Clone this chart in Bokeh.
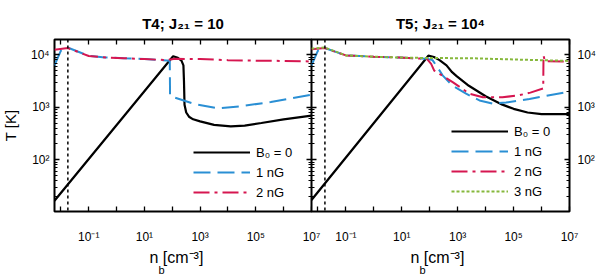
import numpy as np
from bokeh.plotting import figure
from bokeh.layouts import row
from bokeh.models import LogAxis, FixedTicker, Range1d, Span, Legend, LegendItem, Title
from bokeh.embed import file_html
from bokeh.resources import INLINE

FONT = "Liberation Sans"

# ---------------- data (log10 n_b [cm^-3], log10 T [K]) ----------------
# Panel T4; J21 = 10
t4_b0_logn = [-2.23, 2.03, 2.20, 2.33, 2.40, 2.42, 2.44, 2.50, 2.60, 2.75, 3.0, 3.5, 4.1, 4.6, 5.2, 6.0, 7.0]
t4_b0_logT = [1.216, 3.975, 3.945, 3.89, 3.80, 3.50, 3.05, 2.90, 2.82, 2.77, 2.73, 2.665, 2.637, 2.65, 2.70, 2.77, 2.84]

t4_b1_logn = [-2.23, -2.0, -1.75, -1.0, -0.5, 0.25, 1.0, 1.8, 1.91, 1.92, 2.05, 2.78, 3.62, 4.46, 5.54, 7.0]
t4_b1_logT = [3.80, 4.08, 4.14, 3.98, 3.955, 3.937, 3.92, 3.895, 3.89, 3.22, 3.19, 3.065, 2.98, 3.02, 3.10, 3.24]

t4_b2_logn = [-2.23, -1.75, -1.0, -0.5, 0.25, 1.0, 1.8, 2.1, 3.0, 4.0, 5.0, 6.0, 7.0]
t4_b2_logT = [4.10, 4.13, 3.98, 3.955, 3.937, 3.92, 3.90, 3.925, 3.92, 3.90, 3.89, 3.885, 3.875]

# Panel T5; J21 = 10^4
t5_b0_logn = [-2.23, 1.95, 2.15, 2.35, 2.6, 2.8, 2.95, 3.4, 4.0, 4.6, 5.0, 5.5, 6.0, 7.0]
t5_b0_logT = [1.23, 3.985, 3.96, 3.90, 3.80, 3.67, 3.60, 3.41, 3.21, 3.05, 2.97, 2.90, 2.87, 2.87]

t5_b1_logn = [-2.23, -2.0, -1.75, -1.0, 0.0, 0.9, 1.9, 2.1, 2.28, 2.46, 2.82, 3.3, 3.78, 4.25, 4.73, 5.57, 7.0]
t5_b1_logT = [3.80, 4.08, 4.13, 3.99, 3.965, 3.95, 3.925, 3.90, 3.76, 3.61, 3.41, 3.26, 3.13, 3.07, 3.09, 3.16, 3.30]

t5_b2_logn = [-2.23, -1.75, -1.0, 0.0, 0.9, 1.9, 2.05, 2.16, 2.34, 2.82, 3.42, 3.9, 4.6, 5.2, 5.6, 6.06, 6.07, 6.12, 7.0]
t5_b2_logT = [4.11, 4.13, 3.99, 3.965, 3.95, 3.925, 3.83, 3.70, 3.64, 3.48, 3.26, 3.19, 3.19, 3.23, 3.28, 3.36, 3.99, 3.88, 3.87]

t5_b3_logn = [-2.23, -1.75, -1.0, 0.0, 0.9, 1.9, 3.4, 5.2, 7.0]
t5_b3_logT = [4.12, 4.14, 3.99, 3.965, 3.95, 3.94, 3.937, 3.91, 3.885]

n_crit_log = -1.75          # dotted vertical line
x_lim_log = (-2.23, 7.0)
y_lim_log = (1.01, 4.294)

x_tick_exp = [-2, -1, 0, 1, 2, 3, 4, 5, 6, 7]
x_tick_text = {-1: "10⁻¹", 1: "10¹", 3: "10³", 5: "10⁵", 7: "10⁷"}
y_tick_exp = [2, 3, 4]
y_tick_text = {2: "10²", 3: "10³", 4: "10⁴"}

titles = ["T4; J₂₁ = 10", "T5; J₂₁ = 10⁴"]
legend_labels = ["B₀ = 0", "1 nG", "2 nG", "3 nG"]
x_label_main = "n   [cm⁻³]"
x_label_sub = "b"
y_label = "T [K]"

COL = {"b0": "black", "b1": "#2a8fd4", "b2": "#d61650", "b3": "#86b83c"}
DASH = {"b0": "solid", "b1": "17 7", "b2": "16 5 3 5", "b3": "3 2"}
WID = {"b0": 2.2, "b1": 2.0, "b2": 2.0, "b3": 2.0}

x_ticks = [10.0 ** k for k in x_tick_exp]
x_over = {t: x_tick_text.get(k, "") for k, t in zip(x_tick_exp, x_ticks)}
y_ticks = [10.0 ** k for k in y_tick_exp]
y_over = {t: y_tick_text[k] for k, t in zip(y_tick_exp, y_ticks)}
y_minor = [m * 10.0 ** k for k in (1, 2, 3, 4) for m in range(2, 10)]

FH = 172


def style_axis(ax, ticks, minor, overrides, show, standoff):
    ax.ticker = FixedTicker(ticks=ticks, minor_ticks=minor)
    ax.major_label_overrides = overrides if show else {t: "" for t in ticks}
    ax.axis_line_color = None
    ax.major_tick_in = 5
    ax.major_tick_out = 0
    ax.minor_tick_in = 3
    ax.minor_tick_out = 0
    ax.major_tick_line_color = "black"
    ax.minor_tick_line_color = "black"
    ax.major_tick_line_width = 1.3
    ax.minor_tick_line_width = 1
    ax.major_label_text_font = FONT
    ax.major_label_text_color = "black"
    ax.major_label_text_font_size = "12px" if show else "0px"
    ax.major_label_standoff = standoff if show else 0
    ax.axis_label = None


def make_panel(side, fw, series, title, labels, xlab_offset):
    left = side == "left"
    p = figure(x_axis_type="log", y_axis_type="log",
               x_range=Range1d(10 ** x_lim_log[0], 10 ** x_lim_log[1]),
               y_range=Range1d(10 ** y_lim_log[0], 10 ** y_lim_log[1]),
               frame_width=fw, frame_height=FH,
               y_axis_location="left" if left else "right",
               output_backend="svg", toolbar_location=None,
               min_border_left=62 if left else 0,
               min_border_right=16 if left else 31,
               min_border_top=39, min_border_bottom=63,
               margin=(0, 0, 0, -8) if left else (0, 0, 0, -16))
    p.grid.visible = False
    p.outline_line_color = "black"
    p.outline_line_width = 2
    p.background_fill_color = "white"
    p.border_fill_alpha = 0

    p.title = Title(text=title, align="center", text_font=FONT, text_font_size="15px",
                    text_font_style="bold", text_color="black", standoff=15)

    style_axis(p.xaxis[0], x_ticks, [], x_over, True, 18)
    style_axis(p.yaxis[0], y_ticks, y_minor, y_over, True, 5 if left else 8)
    if left:
        ya = p.yaxis[0]
        ya.axis_label = y_label
        ya.axis_label_text_font = FONT
        ya.axis_label_text_font_size = "15px"
        ya.axis_label_text_font_style = "normal"
        ya.axis_label_text_color = "black"
        ya.axis_label_standoff = 9
    ax_top = LogAxis()
    style_axis(ax_top, x_ticks, [], x_over, False, 0)
    p.add_layout(ax_top, "above")
    ax_side = LogAxis()
    style_axis(ax_side, y_ticks, y_minor, y_over, False, 0)
    p.add_layout(ax_side, "right" if left else "left")

    # x-axis label n_b [cm^-3]: main text plus lowered subscript
    p.add_layout(Title(text=x_label_main, align="left", offset=xlab_offset, text_font=FONT,
                       text_font_size="16px", text_font_style="normal", text_color="black",
                       standoff=1), "below")
    p.add_layout(Title(text=x_label_sub, align="left", offset=xlab_offset + 9, text_font=FONT,
                       text_font_size="11px", text_font_style="normal", text_color="black",
                       standoff=-10), "below")

    p.add_layout(Span(location=10 ** n_crit_log, dimension="height", line_color="black",
                      line_dash="3 3", line_width=1.5))

    items = []
    for (key, (lx, ly)), lab in zip(series, labels):
        r = p.line(np.power(10.0, lx), np.power(10.0, ly), line_color=COL[key],
                   line_dash=DASH[key], line_width=WID[key])
        items.append(LegendItem(label=lab, renderers=[r]))

    leg = Legend(items=items, location=(139, 9) if left else (140, 10),
                 glyph_width=57, glyph_height=20, label_height=20, label_standoff=6,
                 spacing=0, padding=0, margin=0, border_line_alpha=0,
                 background_fill_alpha=0, label_text_font=FONT,
                 label_text_font_size="13px", label_text_color="black")
    p.add_layout(leg)
    return p


p1 = make_panel("left", 257,
                [("b0", (t4_b0_logn, t4_b0_logT)), ("b1", (t4_b1_logn, t4_b1_logT)),
                 ("b2", (t4_b2_logn, t4_b2_logT))],
                titles[0], legend_labels[:3], 95)
p2 = make_panel("right", 258,
                [("b0", (t5_b0_logn, t5_b0_logT)), ("b1", (t5_b1_logn, t5_b1_logT)),
                 ("b2", (t5_b2_logn, t5_b2_logT)), ("b3", (t5_b3_logn, t5_b3_logT))],
                titles[1], legend_labels, 99)

layout = row(p1, p2, spacing=0)
open("out.html", "w").write(file_html(layout, INLINE))
